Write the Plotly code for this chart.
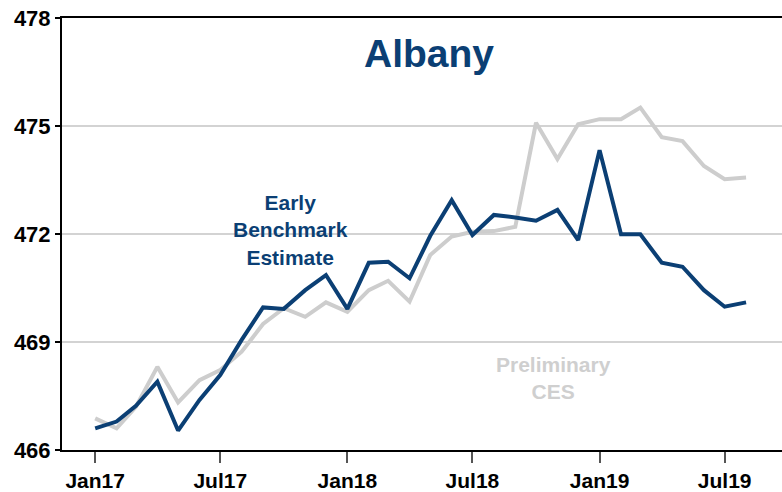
import pandas as pd
import plotly.graph_objects as go

months = pd.date_range("2017-01-01", periods=32, freq="MS")

early_benchmark = [466.60, 466.79, 467.23, 467.90, 466.54, 467.39, 468.08, 469.06,
                   469.96, 469.92, 470.44, 470.86, 469.92, 471.20, 471.23, 470.77,
                   471.95, 472.94, 471.97, 472.53, 472.46, 472.37, 472.67, 471.83,
                   474.33, 471.99, 471.99, 471.20, 471.09, 470.44, 469.98, 470.10]

preliminary_ces = [466.88, 466.60, 467.20, 468.31, 467.32, 467.94, 468.22, 468.73,
                   469.50, 469.94, 469.70, 470.10, 469.84, 470.44, 470.70, 470.12,
                   471.42, 471.93, 472.06, 472.08, 472.20, 475.09, 474.08, 475.05,
                   475.19, 475.19, 475.51, 474.69, 474.58, 473.89, 473.52, 473.57]

y_ticks = [466, 469, 472, 475, 478]

navy = "#0B3F74"
grey = "#CDCDCD"
font = "Arial, Liberation Sans, sans-serif"

fig = go.Figure()

# grey line goes under the navy one
fig.add_trace(go.Scatter(x=months, y=preliminary_ces, mode="lines",
                         line=dict(color=grey, width=4), name="Preliminary CES"))
fig.add_trace(go.Scatter(x=months, y=early_benchmark, mode="lines",
                         line=dict(color=navy, width=4), name="Early Benchmark Estimate"))

fig.add_annotation(text="<b>Albany</b>", xref="paper", yref="paper", x=0.51, y=0.917,
                   showarrow=False, xanchor="center", yanchor="middle",
                   font=dict(family=font, size=39, color=navy))
fig.add_annotation(text="<b>Early<br>Benchmark<br>Estimate</b>", xref="paper", yref="paper",
                   x=0.318, y=0.509, showarrow=False, xanchor="center", yanchor="middle",
                   font=dict(family=font, size=21, color=navy))
fig.add_annotation(text="<b>Preliminary<br>CES</b>", xref="paper", yref="paper",
                   x=0.682, y=0.167, showarrow=False, xanchor="center", yanchor="middle",
                   font=dict(family=font, size=21, color="#CFCFCF"))

fig.update_xaxes(
    range=["2016-11-14", "2019-09-22"],
    tick0="2017-01-01", dtick="M6", tickformat="%b%y",
    showgrid=False, zeroline=False,
    showline=True, linecolor="black", linewidth=2, mirror=True,
    ticks="outside", ticklen=11, tickwidth=2, tickcolor="#555555",
    tickfont=dict(family=font, size=21, color="black", weight="bold"),
)
fig.update_yaxes(
    range=[466, 478], tickvals=y_ticks,
    showgrid=True, gridcolor="#D3D3D3", gridwidth=1.5, zeroline=False,
    showline=True, linecolor="black", linewidth=2,
    ticks="outside", ticklen=5, tickwidth=1.5, tickcolor="black",
    tickfont=dict(family=font, size=22, color="black", weight="bold"),
)

fig.update_layout(
    width=782, height=492,
    margin=dict(l=62, r=0, t=18, b=42),
    plot_bgcolor="white", paper_bgcolor="white",
    showlegend=False,
)

# drop the browser's default body margin so the figure sits at the page corner
fig.write_html("out.html", config={"displayModeBar": False},
               post_script="document.body.style.margin = '0';")
